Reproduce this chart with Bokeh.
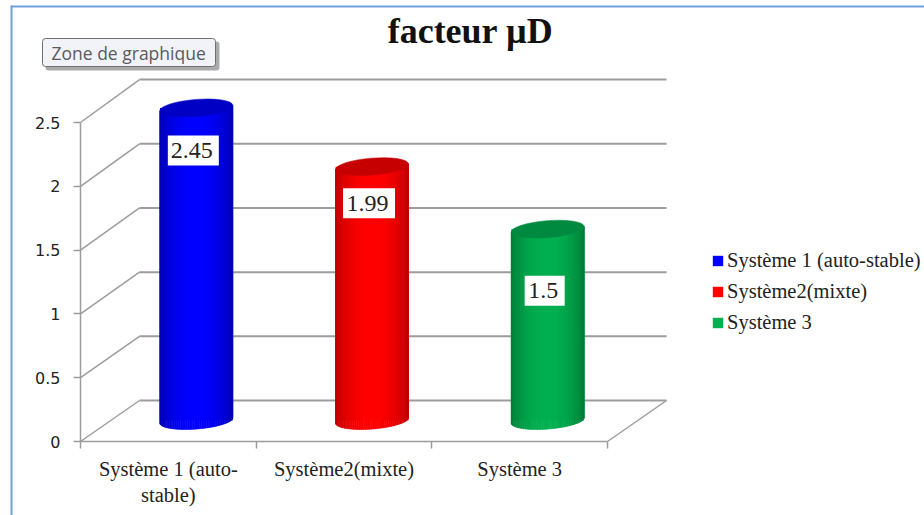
import math
from bokeh.embed import file_html
from bokeh.resources import INLINE
from bokeh.plotting import figure
from bokeh.models import (BoxAnnotation, FixedTicker, Label, Legend, LegendItem, LinearAxis, Range1d)
from bokeh.core.properties import value

TITLE = "facteur µD"
BUTTON = "Zone de graphique"
categories = ["Système 1 (auto-\nstable)", "Système2(mixte)", "Système 3"]
legend_names = ["Système 1 (auto-stable)", "Système2(mixte)", "Système 3"]
values = [2.45, 1.99, 1.5]
value_labels = ["2.45", "1.99", "1.5"]
y_ticks = [0, 0.5, 1, 1.5, 2, 2.5]
y_tick_labels = ["0", "0.5", "1", "1.5", "2", "2.5"]
colors = ["#0000FF", "#FF0000", "#00B050"]
dark_colors = ["#0000B4", "#BE0000", "#007E3A"]
top_colors = ["#0000C4", "#C60000", "#008A40"]

W, H = 924, 515
OX, OY = 80, 441                       # canvas pixel of the data origin
SX = 175.67                            # pixels per category
SY = 127.6                             # pixels per unit of value
DX, DY = 59 / SX, 41 / SY              # depth of the 3-D floor, data units
GRID = "#9C9C9C"

p = figure(width=W, height=H, output_backend="svg", toolbar_location=None,
           x_range=Range1d(-OX / SX, (W - OX) / SX), y_range=Range1d(-(H - OY) / SY, OY / SY),
           x_axis_type=None, y_axis_type=None,
           min_border=0, background_fill_color="white", border_fill_color="white", outline_line_color=None)
p.grid.visible = False

# axes, pinned to the data origin inside the frame
xaxis = LinearAxis(fixed_location=0)
yaxis = LinearAxis(fixed_location=0)
p.add_layout(xaxis, "below")
p.add_layout(yaxis, "left")
xaxis.ticker = FixedTicker(ticks=[i + 0.5 for i in range(3)], minor_ticks=[0, 1, 2, 3])
xaxis.major_label_overrides = {i + 0.5: c for i, c in enumerate(categories)}
xaxis.major_tick_out = 0
xaxis.major_tick_in = 0
xaxis.minor_tick_out = 7
xaxis.minor_tick_in = 0
xaxis.minor_tick_line_color = GRID
xaxis.minor_tick_line_width = 1.5
xaxis.bounds = (0, 3)
xaxis.major_label_standoff = 9
xaxis.major_label_text_font = "Liberation Serif"
xaxis.major_label_text_font_size = "20.5px"
xaxis.major_label_text_color = "#222222"
yaxis.ticker = FixedTicker(ticks=y_ticks)
yaxis.major_label_overrides = dict(zip(y_ticks, y_tick_labels))
yaxis.major_tick_out = 7
yaxis.major_tick_in = 0
yaxis.minor_tick_line_color = None
yaxis.bounds = (0, 2.5)
yaxis.major_label_standoff = 13
yaxis.major_label_text_font = "DejaVu Sans"
yaxis.major_label_text_font_size = "16px"
yaxis.major_label_text_color = "#222222"
for ax in (xaxis, yaxis):
    ax.axis_line_color = GRID
    ax.axis_line_width = 1.5
    ax.major_tick_line_color = GRID
    ax.major_tick_line_width = 1.5

# 3-D walls
for v in y_ticks:
    back = v * 1.006 + DY
    p.line([0, DX], [v, back], line_color=GRID, line_width=1.5)
    p.line([DX, 3 + DX], [back, back], line_color=GRID, line_width=2)
p.line([3, 3 + DX], [0, DY], line_color=GRID, line_width=1.5)


def mix(c, d, t):
    a = [int(c[i:i + 2], 16) for i in (1, 3, 5)]
    b = [int(d[i:i + 2], 16) for i in (1, 3, 5)]
    return "#%02X%02X%02X" % tuple(round(x + (y - x) * t) for x, y in zip(a, b))


# cylinders, in pixel geometry mapped through the data scales
A, B, TILT = 36.5, 8.5, math.radians(4.5)
N = 48
SHIFT_X, SHIFT_Y = -1.5 / SX, 3 / SY
renderers = []
for i, (v, c, d, t) in enumerate(zip(values, colors, dark_colors, top_colors)):
    xc = i + 0.5 + DX / 2 + SHIFT_X
    y_bot, y_top = DY / 2 - 0.02 + SHIFT_Y, v + DY / 2 - 0.02 + SHIFT_Y
    hw = A * math.cos(TILT) / SX
    base = p.quad(left=[xc - hw], right=[xc + hw], bottom=[y_bot], top=[y_top],
                  fill_color=c, line_color=None)
    renderers.append(base)
    xs, ys, cols = [], [], []
    for k in range(N):
        th0 = math.pi + math.pi * k / N
        th1 = math.pi + math.pi * (k + 1) / N
        pts = []
        for th in (th0, th1):
            px = A * math.cos(th) * math.cos(TILT) - B * math.sin(th) * math.sin(TILT)
            py = A * math.cos(th) * math.sin(TILT) + B * math.sin(th) * math.cos(TILT)
            pts.append((px, py))
        (x0, yb0), (x1, yb1) = pts
        slope = math.tan(TILT)
        xs.append([xc + x0 / SX, xc + x1 / SX, xc + x1 / SX, xc + x0 / SX])
        ys.append([y_bot + yb0 / SY, y_bot + yb1 / SY,
                   y_top + x1 * slope / SY, y_top + x0 * slope / SY])
        f = (x0 + x1) / 2 / A
        cols.append(mix(c, d, min(1.0, abs(f) ** 2.2)))
    p.patches(xs, ys, fill_color=cols, line_color=cols, line_width=0.6)
    p.ellipse(x=[xc], y=[y_top], width=2 * A, height=2 * B, angle=TILT,
              width_units="screen", height_units="screen",
              fill_color=t, line_color=t, line_width=0.5)

# value labels
label_drop = [42.5, 36.5, 61.5]      # pixels under the top of each cylinder
box_w = [51, 52, 40]
for i, v in enumerate(values):
    xc = i + 0.5 + DX / 2 + SHIFT_X - 3 / SX
    yl = v + DY / 2 - 0.02 + SHIFT_Y - label_drop[i] / SY
    p.rect(x=[xc], y=[yl], width=box_w[i], height=30, width_units="screen", height_units="screen",
           fill_color="white", line_color=None)
    p.text(x=[xc - 1.5 / SX], y=[yl], text=[value_labels[i]], text_align="center", text_baseline="middle",
           text_font=value("Liberation Serif"), text_font_size="24px", text_color="#222222")

# legend
legend = Legend(items=[LegendItem(label=n, renderers=[r]) for n, r in zip(legend_names, renderers)],
                location=(711, H - 334), glyph_width=13, glyph_height=13,
                spacing=8, label_standoff=3, padding=0, margin=0,
                border_line_color=None, background_fill_alpha=0,
                label_text_font="Liberation Serif", label_text_font_size="20.5px",
                label_text_color="#222222", label_height=19)
p.add_layout(legend, "center")

# title and page furniture
p.add_layout(Label(x=470, y=30, x_units="canvas", y_units="canvas", text=TITLE,
                   text_font="Liberation Serif", text_font_size="36px", text_font_style="bold",
                   text_color="#111111", text_align="center", text_baseline="middle"))


def box(left, right, top, bottom, **kw):
    p.add_layout(BoxAnnotation(left=left, right=right, top=top, bottom=bottom,
                               left_units="canvas", right_units="canvas",
                               top_units="canvas", bottom_units="canvas", **kw))


edge = "#6F9FDC"
box(11, 924, 5, 7, fill_color=edge, fill_alpha=1, line_color=None)
box(10, 12, 5, 515, fill_color=edge, fill_alpha=1, line_color=None)
box(45, 219, 41, 70, fill_color="#888888", fill_alpha=0.7, line_color=None, border_radius=3)
box(42, 215, 38, 66, fill_color="#F2F3F8", fill_alpha=1, line_color="#707070", line_width=1,
    line_alpha=1, border_radius=3)
p.add_layout(Label(x=51, y=52, x_units="canvas", y_units="canvas", text=BUTTON,
                   text_font="Open Sans", text_font_size="17.5px", text_color="#5A5A5A",
                   text_baseline="middle"))

open("out.html", "w").write(file_html(p, INLINE))
